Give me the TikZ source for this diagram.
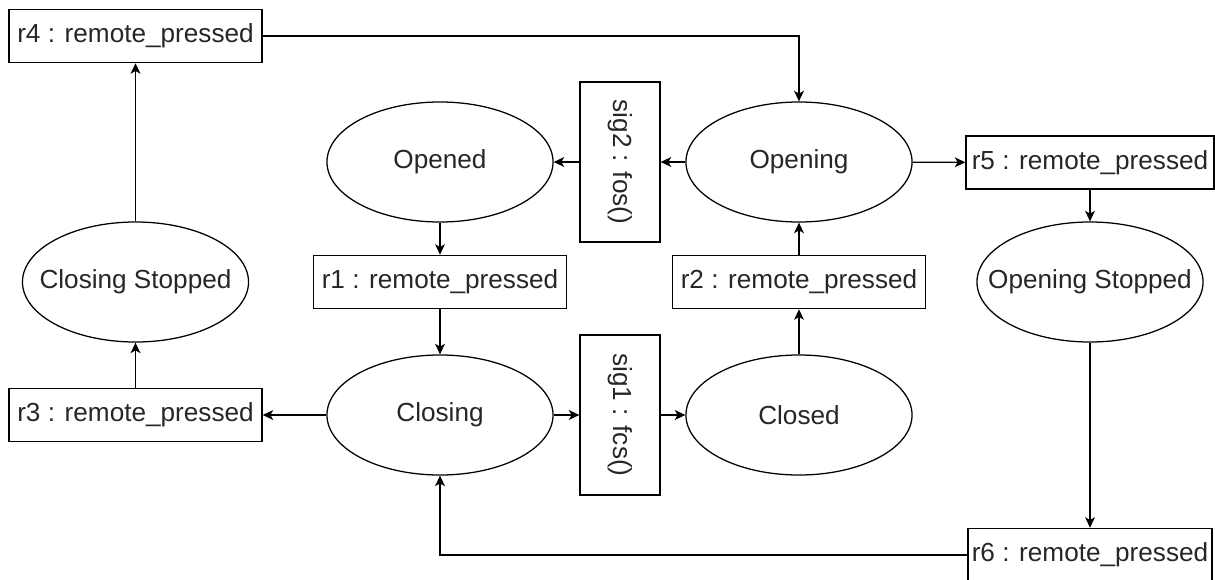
\documentclass[tikz,border=0pt]{standalone}
\usepackage{fontspec}
\setmainfont{Liberation Sans}
\usetikzlibrary{shapes,arrows.meta}
\tikzset{
  state/.style = {draw, ellipse, inner sep=0pt, minimum width=5.65cm, minimum height=3cm,
    execute at begin node=\hbox to 0pt\bgroup\hss, execute at end node=\hss\egroup},
  event/.style = {draw, rectangle, inner sep=0pt, minimum width=6.325cm, minimum height=1.33cm},
  signal/.style = {draw, rectangle, inner sep=0pt, rotate=-90, minimum width=4cm, minimum height=2cm}
}

\begin{document}
\begin{tikzpicture}[x=0.025cm, y=-0.025cm, line width=0.9pt, text=black!85,
    >={Stealth[length=7.5pt, width=7pt, inset=2pt]}, font=\fontsize{18.6}{22}\selectfont]
  \useasboundingbox (0,0) rectangle (1215,579);
  \clip (0,0) rectangle (1215,579);

  % states
  \node[state] (opened)  at (440,162)  {Opened};
  \node[state] (opening) at (799,162)  {Opening};
  \node[state] (closing) at (440,415)  {Closing};
  \node[state] (closed)  at (799,415)  {Closed};
  \node[state] (cstop)   at (135.5,282) {Closing Stopped};
  \node[state] (ostop)   at (1090,282) {Opening Stopped};

  % remote events
  \node[event] (r1) at (440,282)   {r1 : remote\_pressed};
  \node[event] (r2) at (799,282)   {r2 : remote\_pressed};
  \node[event] (r3) at (135.5,415) {r3 : remote\_pressed};
  \node[event] (r4) at (135.5,36)  {r4 : remote\_pressed};
  \node[event, minimum width=6.2cm] (r5) at (1090,162.5) {r5 : remote\_pressed};
  \node[event, minimum width=6.1cm] (r6) at (1090,555)   {r6 : remote\_pressed};

  % end switch signals
  \node[signal] (sig1) at (620,415) {sig1 : fcs()};
  \node[signal] (sig2) at (620,162) {sig2 : fos()};

  \draw[->] (opened) -- (r1);
  \draw[->] (r1) -- (closing);
  \draw[->] (closing) -- (sig1);
  \draw[->] (sig1) -- (closed);
  \draw[->] (closed) -- (r2);
  \draw[->] (r2) -- (opening);
  \draw[->] (opening) -- (sig2);
  \draw[->] (sig2) -- (opened);
  \draw[->] (closing) -- (r3);
  \draw[->] (r3) -- (cstop);
  \draw[->] (cstop) -- (r4);
  \draw[->] (r4.east) -| (opening);
  \draw[->] (opening) -- (r5);
  \draw[->] (r5) -- (ostop);
  \draw[->] (ostop) -- (r6);
  \draw[->] (r6.west) -| (closing);
\end{tikzpicture}
\end{document}
